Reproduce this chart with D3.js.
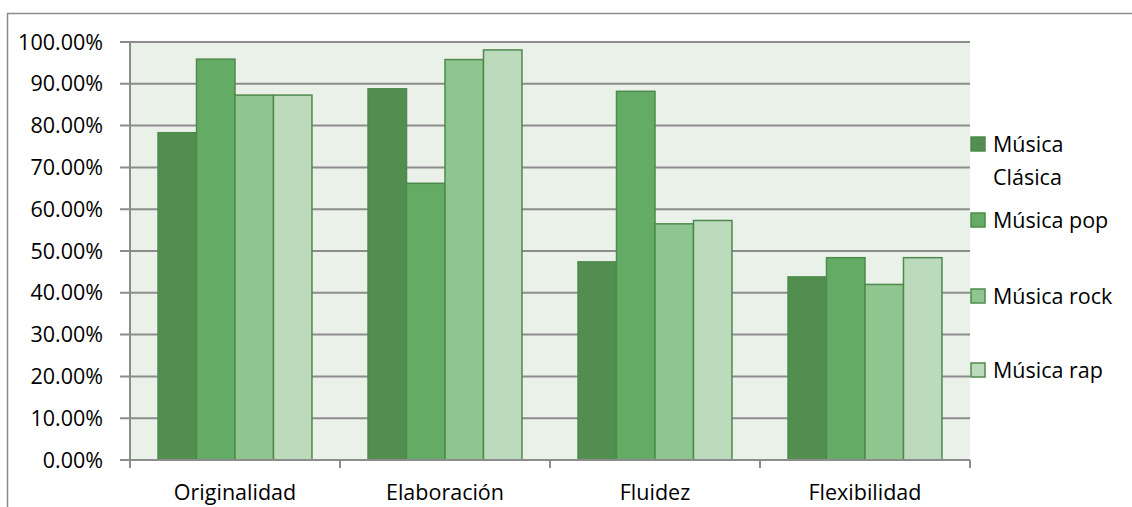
<!DOCTYPE html>
<html><head><meta charset="utf-8">
<script src="https://cdn.jsdelivr.net/npm/d3@7"></script>
<style>body{margin:0;background:#fff}svg{display:block}text{font-family:"Open Sans",sans-serif;fill:#000}</style>
</head><body><svg id="c" width="1132" height="507"></svg>
<script>
const categories = ["Originalidad","Elaboración","Fluidez","Flexibilidad"];
const seriesNames = ["Música Clásica","Música pop","Música rock","Música rap"];
const clasica = [0.783, 0.888, 0.474, 0.438];
const pop = [0.959, 0.662, 0.882, 0.484];
const rock = [0.873, 0.958, 0.565, 0.420];
const rap = [0.873, 0.981, 0.573, 0.484];
const yTicks = [0,0.1,0.2,0.3,0.4,0.5,0.6,0.7,0.8,0.9,1.0];
const colors = ["#528E50","#64AC66","#8FC58E","#BCDBBC"];
const seriesValues = [clasica, pop, rock, rap];

const svg = d3.select("#c");
const L = 130, R = 970, T = 42, B = 460;
const FS = 21.5;

svg.append("rect").attr("x",7.5).attr("y",13.5).attr("width",1140).attr("height",520)
  .attr("fill","#fff").attr("stroke","#8c8c8c").attr("stroke-width",1.5);

const x0 = d3.scaleBand().domain(categories).range([L,R]).paddingInner(0.267).paddingOuter(0.1335);
const x1 = d3.scaleBand().domain(d3.range(4)).range([0,x0.bandwidth()]);
const y = d3.scaleLinear().domain([0,1]).range([B,T]);

svg.append("rect").attr("x",L).attr("y",T).attr("width",R-L).attr("height",B-T).attr("fill","#EAF1E9");

const grid = svg.append("g");
yTicks.forEach(t=>{
  grid.append("line").attr("x1",L-10).attr("x2",R).attr("y1",y(t)).attr("y2",y(t))
    .attr("stroke","#8c8c8c").attr("stroke-width",2);
});
svg.append("line").attr("x1",L).attr("x2",L).attr("y1",T).attr("y2",B).attr("stroke","#8c8c8c").attr("stroke-width",2);

const g = svg.append("g");
categories.forEach((c,ci)=>{
  seriesValues.forEach((vals,si)=>{
    g.append("rect").attr("x",x0(c)+x1(si)).attr("width",x1.bandwidth())
     .attr("y",y(vals[ci])).attr("height",B-y(vals[ci]))
     .attr("fill",colors[si]).attr("stroke","#4E8A4C").attr("stroke-width",1.5);
  });
});

// bottom axis
svg.append("line").attr("x1",L).attr("x2",R).attr("y1",B).attr("y2",B).attr("stroke","#8c8c8c").attr("stroke-width",2);
const step = (R-L)/categories.length;
d3.range(categories.length+1).forEach(i=>{
  const xx = L + i*step;
  svg.append("line").attr("x1",xx).attr("x2",xx).attr("y1",B).attr("y2",B+8).attr("stroke","#8c8c8c").attr("stroke-width",2);
});
categories.forEach(c=>{
  svg.append("text").attr("x",x0(c)+x0.bandwidth()/2).attr("y",500).attr("text-anchor","middle")
   .attr("font-size",FS).text(c);
});
yTicks.forEach(t=>{
  svg.append("text").attr("x",103).attr("y",y(t)+7.5).attr("text-anchor","end")
   .attr("font-size",FS).text(d3.format(".2f")(t*100)+"%");
});

// legend
const legY = [144,220,296,370];
seriesNames.forEach((n,i)=>{
  svg.append("rect").attr("x",971).attr("y",legY[i]-7).attr("width",14).attr("height",14)
   .attr("fill",colors[i]).attr("stroke","#4E8A4C").attr("stroke-width",1.5);
  const t = svg.append("text").attr("x",993).attr("y",legY[i]+7.5).attr("font-size",FS);
  if(i===0){
    t.append("tspan").attr("x",993).text("Música");
    t.append("tspan").attr("x",993).attr("dy",33).text("Clásica");
  } else t.text(n);
});
</script></body></html>
